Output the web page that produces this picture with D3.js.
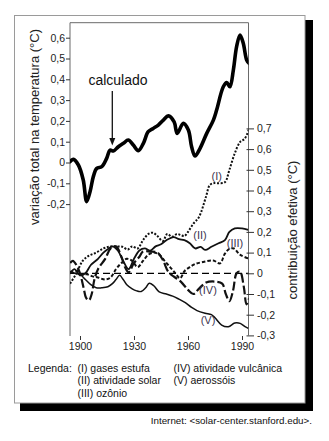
<!DOCTYPE html>
<html><head><meta charset="utf-8">
<script src="https://cdn.jsdelivr.net/npm/d3@7"></script>
<style>
html,body{margin:0;padding:0;background:#fff;}
svg{display:block;font-family:"Liberation Sans",Arial,sans-serif;}
</style></head>
<body>
<svg id="c" width="329" height="441"></svg>
<script>
// ---- data ----
const xTicks = [1900, 1930, 1960, 1990];
const leftTicks = [0.6, 0.5, 0.4, 0.3, 0.2, 0.1, 0, -0.1, -0.2];
const rightTicks = [0.7, 0.6, 0.5, 0.4, 0.3, 0.2, 0.1, 0, -0.1, -0.2, -0.3];

const calculado = [[1894.4,0.004],[1896.3,0.015],[1899.1,-0.012],[1901.8,-0.084],[1903.7,-0.188],[1905.6,-0.14],[1907.4,-0.068],[1909.3,-0.028],[1912.1,-0.02],[1914.8,0.02],[1916.7,0.06],[1918.5,0.055],[1921.3,0.076],[1924.1,0.092],[1926.8,0.108],[1929.6,0.084],[1932.4,0.057],[1935.2,0.092],[1937.9,0.148],[1940.7,0.164],[1943.5,0.18],[1946.3,0.204],[1949.1,0.224],[1952.3,0.195],[1954,0.14],[1957.4,0.188],[1960.2,0.156],[1962,0.076],[1963.9,0.031],[1966.7,0.068],[1970.4,0.14],[1974.1,0.204],[1975.9,0.252],[1979.6,0.364],[1981.5,0.384],[1983.3,0.364],[1985.2,0.445],[1987,0.557],[1988.9,0.613],[1990.7,0.573],[1992.6,0.493],[1993.9,0.477]];

const gasesEstufa = [[1894.5,-0.05],[1898,0.0],[1901.5,0.06],[1905,0.085],[1909,0.10],[1913,0.12],[1916,0.128],[1920,0.13],[1923.5,0.128],[1926.5,0.115],[1929,0.13],[1932,0.12],[1935,0.16],[1938,0.19],[1940.5,0.196],[1943,0.18],[1946,0.156],[1948.5,0.19],[1951,0.177],[1954,0.19],[1956,0.185],[1958,0.18],[1960,0.20],[1963,0.24],[1966,0.27],[1970,0.37],[1972,0.425],[1974,0.435],[1977,0.435],[1980.5,0.44],[1983,0.50],[1986,0.58],[1989,0.635],[1991.5,0.65],[1994,0.70]];

const atividadeSolar = [[1894.5,0.0],[1897,0.02],[1900,-0.01],[1903,0.0],[1906,0.04],[1910,0.07],[1913,0.1],[1916,0.12],[1918,0.13],[1921,0.11],[1924,0.06],[1927,0.02],[1930,0.07],[1933,0.11],[1936,0.12],[1939,0.11],[1942,0.13],[1945,0.14],[1948,0.16],[1952,0.175],[1955,0.165],[1958,0.16],[1961,0.145],[1964,0.12],[1967,0.128],[1969.5,0.113],[1973,0.128],[1977,0.145],[1980.5,0.16],[1983,0.2],[1986,0.217],[1990,0.217],[1993.5,0.21]];

const ozonio = [[1894.5,0.0],[1898,0.01],[1901,-0.005],[1904,-0.005],[1907,-0.015],[1910,-0.02],[1914,-0.03],[1917,-0.02],[1920,0.02],[1923,0.05],[1926,0.07],[1929,0.06],[1932,0.03],[1935,0.06],[1938,0.09],[1941,0.10],[1944,0.09],[1947,0.06],[1950,0.03],[1953,0.0],[1955.6,-0.024],[1958,0.01],[1961,0.03],[1964,0.045],[1968.5,0.055],[1974,0.062],[1977.8,0.048],[1980.5,0.095],[1983,0.118],[1985.5,0.12],[1988.9,0.09],[1993.5,0.072]];

const atividadeVulcanica = [[1894.5,0.05],[1896,0.06],[1898,0.04],[1900,0.0],[1902,-0.07],[1903.5,-0.12],[1905,-0.13],[1906.5,-0.10],[1908,-0.03],[1910,0.02],[1914,0.07],[1917,0.12],[1920,0.13],[1923,0.08],[1925,0.03],[1927,0.005],[1930,0.05],[1933,0.08],[1935,0.105],[1939,0.105],[1943,0.1],[1946,0.065],[1949,0.008],[1952,-0.015],[1956,-0.04],[1960,-0.08],[1963,-0.1],[1966,-0.075],[1970,-0.045],[1975,-0.04],[1979,-0.05],[1981,-0.10],[1983,-0.135],[1985,-0.085],[1987,0.0],[1988.9,0.008],[1991,-0.065],[1992.5,-0.15],[1994,-0.12]];

const aerossois = [[1894.5,0.01],[1897,0.0],[1900,-0.005],[1903,-0.03],[1906,-0.055],[1909,-0.07],[1912,-0.07],[1915.5,-0.065],[1918,-0.05],[1920,-0.03],[1922,-0.01],[1924,-0.03],[1926,-0.055],[1929,-0.075],[1931.5,-0.085],[1934,-0.088],[1936.5,-0.07],[1938.5,-0.048],[1941,-0.06],[1944,-0.09],[1948,-0.1],[1951.5,-0.11],[1955,-0.125],[1958.5,-0.142],[1962,-0.165],[1965,-0.18],[1969.5,-0.193],[1973,-0.2],[1975,-0.215],[1978.7,-0.25],[1982.4,-0.258],[1986,-0.24],[1989,-0.242],[1991.7,-0.258],[1993.5,-0.266]];

const seriesNames = ["(I)", "(II)", "(III)", "(IV)", "(V)"];
const seriesLabelAt = [[1976,0.47],[1966.7,0.185],[1986.1,0.146],[1971.1,-0.08],[1971.1,-0.226]];

const legendCol1 = ["(I) gases estufa", "(II) atividade solar", "(III) ozônio"];
const legendCol2 = ["(IV) atividade vulcânica", "(V) aerossóis"];

// ---- drawing ----
const svg = d3.select("#c");
const x = d3.scaleLinear().domain([1900, 1990]).range([80, 242]);
const yL = d3.scaleLinear().domain([0, 0.6]).range([162.5, 37.7]);
const yR = d3.scaleLinear().domain([-0.3, 0.7]).range([335.4, 128.4]);
const fmt = d => d === 0 ? "0" : (d < 0 ? "-" : "") + Math.abs(d).toFixed(1).replace(".", ",");

// shadow + box
svg.append("rect").attr("x", 20).attr("y", 20).attr("width", 293).attr("height", 391).attr("fill", "#000");
svg.append("rect").attr("x", 14.5).attr("y", 15.5).attr("width", 290.5).attr("height", 387.5)
  .attr("fill", "#fff").attr("stroke", "#9a9a9a").attr("stroke-width", 1);

const L = 70, R = 248.5, T = 22.7, B = 336;
// frame
svg.append("path").attr("d", `M${L},${B}V${T}H${R}V${yR(-0.3)}`)
  .attr("fill", "none").attr("stroke", "#6a6a6a").attr("stroke-width", 1);

// zero dashed line
svg.append("line").attr("x1", L).attr("x2", R).attr("y1", yR(0)).attr("y2", yR(0))
  .attr("stroke", "#000").attr("stroke-width", 1.2).attr("stroke-dasharray", "7,4");

function styleAxis(g, size) {
  g.select(".domain").remove();
  g.selectAll(".tick line").attr("stroke", "#333");
  g.selectAll(".tick text").attr("fill", "#222").style("font-size", size + "px")
    .style("font-family", '"Liberation Sans", Arial, sans-serif');
}
const gl = svg.append("g").attr("transform", `translate(${L},0)`)
  .call(d3.axisLeft(yL).tickValues(leftTicks).tickFormat(fmt).tickSize(4).tickPadding(1));
styleAxis(gl, 10.5);
const gr = svg.append("g").attr("transform", `translate(${R - 2},0)`)
  .call(d3.axisRight(yR).tickValues(rightTicks).tickFormat(fmt).tickSize(7.5).tickPadding(3));
styleAxis(gr, 10.5);
const gb = svg.append("g").attr("transform", `translate(0,${B})`)
  .call(d3.axisBottom(x).tickValues(xTicks).tickFormat(d3.format("d")).tickSize(4).tickPadding(3));
styleAxis(gb, 10.5);

// clip to plot
svg.append("clipPath").attr("id", "clip").append("rect")
  .attr("x", L).attr("y", T).attr("width", R - L).attr("height", B - T);
const plot = svg.append("g").attr("clip-path", "url(#clip)");

const curve = d3.curveCatmullRom.alpha(0.5);
const lineR = d3.line().x(d => x(d[0])).y(d => yR(d[1])).curve(curve);
const lineL = d3.line().x(d => x(d[0])).y(d => yL(d[1])).curve(curve);

const seriesDefs = [
  {data: aerossois, dash: null, w: 1.5},
  {data: atividadeSolar, dash: null, w: 1.8},
  {data: ozonio, dash: "3.5,2", w: 2},
  {data: atividadeVulcanica, dash: "9,3", w: 2.2},
  {data: gasesEstufa, dash: "2,1.6", w: 2},
];
seriesDefs.forEach(s => {
  plot.append("path").datum(s.data).attr("d", lineR).attr("fill", "none")
    .attr("stroke", "#111").attr("stroke-width", s.w)
    .attr("stroke-dasharray", s.dash).attr("stroke-linejoin", "round");
});
plot.append("path").datum(calculado).attr("d", lineL).attr("fill", "none")
  .attr("stroke", "#000").attr("stroke-width", 3.6).attr("stroke-linejoin", "round").attr("stroke-linecap", "round");

// series labels
seriesNames.forEach((n, i) => {
  svg.append("text").attr("x", x(seriesLabelAt[i][0])).attr("y", yR(seriesLabelAt[i][1]))
    .attr("text-anchor", "middle").attr("dy", "0.35em")
    .attr("fill", "#3d3650").style("font-size", "11px").text(n);
});

// calculado label and arrow
svg.append("text").attr("x", 118).attr("y", 85).attr("text-anchor", "middle")
  .attr("fill", "#111").style("font-size", "14px").text("calculado");
const ax = 112.3;
svg.append("line").attr("x1", ax).attr("x2", ax).attr("y1", 91).attr("y2", 140)
  .attr("stroke", "#111").attr("stroke-width", 1.3);
svg.append("path").attr("d", `M${ax - 3},${138}L${ax + 3},${138}L${ax},${145.5}Z`).attr("fill", "#111");

// axis titles
svg.append("text").attr("transform", "translate(39,127) rotate(-90)").attr("text-anchor", "middle")
  .attr("fill", "#222").style("font-size", "13px").text("variação total na temperatura (°C)");
svg.append("text").attr("transform", "translate(297,230) rotate(-90)").attr("text-anchor", "middle")
  .attr("fill", "#222").style("font-size", "13px").text("contribuição efetiva (°C)");

// legend
svg.append("text").attr("x", 28).attr("y", 372).attr("fill", "#111").style("font-size", "10.5px").text("Legenda:");
legendCol1.forEach((t, i) => svg.append("text").attr("x", 77.5).attr("y", 372 + i * 12.3)
  .attr("fill", "#111").style("font-size", "10.5px").text(t));
legendCol2.forEach((t, i) => svg.append("text").attr("x", 173.5).attr("y", 372 + i * 12.3)
  .attr("fill", "#111").style("font-size", "10.5px").text(t));

// source
svg.append("text").attr("x", 312).attr("y", 424).attr("text-anchor", "end")
  .attr("fill", "#111").style("font-size", "9.8px").text("Internet: <solar-center.stanford.edu>.");
</script>
</body></html>
